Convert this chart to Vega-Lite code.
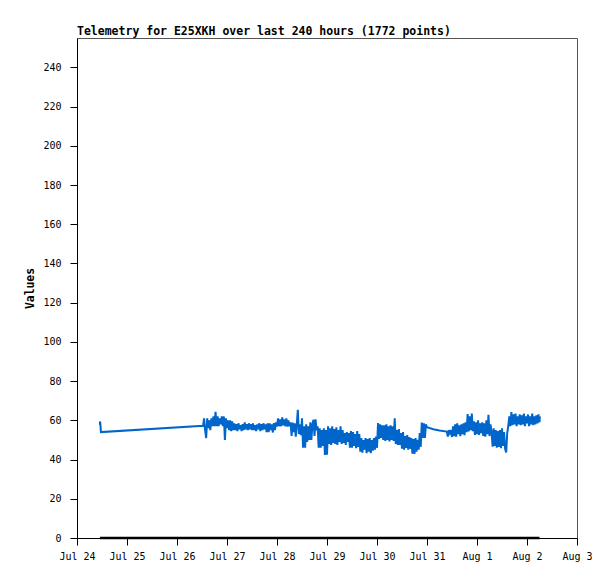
{
  "$schema": "https://vega.github.io/schema/vega-lite/v6.json",
  "width": 500,
  "height": 500,
  "autosize": {"type": "none"},
  "padding": {"left": 77, "top": 38, "right": 38, "bottom": 41},
  "background": "white",
  "title": {
    "text": "Telemetry for E25XKH over last 240 hours (1772 points)",
    "anchor": "start",
    "frame": "group",
    "font": "DejaVu Sans Mono",
    "fontSize": 11.5,
    "fontWeight": "bold",
    "color": "black",
    "baseline": "alphabetic",
    "offset": 4,
    "dy": 12
  },
  "datasets": {
    "zero": [
      {"t": "2024-07-24T11:00", "v": 0},
      {"t": "2024-08-02T06:00", "v": 0}
    ],
    "tele": [
      {"t": "2024-07-24T11:00", "v": 59.5},
      {"t": "2024-07-24T11:05", "v": 57.5},
      {"t": "2024-07-24T11:10", "v": 59},
      {"t": "2024-07-24T11:30", "v": 54},
      {"t": "2024-07-26T12:30", "v": 57.2},
      {"t": "2024-07-26T13:00", "v": 61},
      {"t": "2024-07-26T13:30", "v": 55},
      {"t": "2024-07-26T14:00", "v": 51},
      {"t": "2024-07-26T14:30", "v": 61},
      {"t": "2024-07-26T15:00", "v": 56},
      {"t": "2024-07-26T15:30", "v": 60},
      {"t": "2024-07-26T16:00", "v": 55},
      {"t": "2024-07-26T16:30", "v": 61},
      {"t": "2024-07-26T17:00", "v": 57},
      {"t": "2024-07-26T17:30", "v": 62},
      {"t": "2024-07-26T18:00", "v": 57},
      {"t": "2024-07-26T18:30", "v": 64.3},
      {"t": "2024-07-26T19:00", "v": 57},
      {"t": "2024-07-26T19:30", "v": 62},
      {"t": "2024-07-26T20:00", "v": 57},
      {"t": "2024-07-26T20:30", "v": 61},
      {"t": "2024-07-26T21:00", "v": 58},
      {"t": "2024-07-26T21:30", "v": 62},
      {"t": "2024-07-26T22:00", "v": 57},
      {"t": "2024-07-26T22:30", "v": 62},
      {"t": "2024-07-26T23:00", "v": 50},
      {"t": "2024-07-26T23:30", "v": 61},
      {"t": "2024-07-27T00:00", "v": 56},
      {"t": "2024-07-27T00:30", "v": 60},
      {"t": "2024-07-27T01:00", "v": 55},
      {"t": "2024-07-27T01:30", "v": 60},
      {"t": "2024-07-27T02:00", "v": 54.5},
      {"t": "2024-07-27T02:30", "v": 59.5},
      {"t": "2024-07-27T03:00", "v": 55},
      {"t": "2024-07-27T03:30", "v": 58.5},
      {"t": "2024-07-27T04:00", "v": 55},
      {"t": "2024-07-27T04:30", "v": 58},
      {"t": "2024-07-27T05:00", "v": 54.5},
      {"t": "2024-07-27T05:30", "v": 58.5},
      {"t": "2024-07-27T06:00", "v": 55.5},
      {"t": "2024-07-27T06:30", "v": 57.5},
      {"t": "2024-07-27T07:00", "v": 54.5},
      {"t": "2024-07-27T07:30", "v": 58},
      {"t": "2024-07-27T08:00", "v": 55},
      {"t": "2024-07-27T08:30", "v": 59},
      {"t": "2024-07-27T09:00", "v": 55.5},
      {"t": "2024-07-27T09:30", "v": 58},
      {"t": "2024-07-27T10:00", "v": 55},
      {"t": "2024-07-27T10:30", "v": 58.5},
      {"t": "2024-07-27T11:00", "v": 55.5},
      {"t": "2024-07-27T11:30", "v": 58},
      {"t": "2024-07-27T12:00", "v": 55},
      {"t": "2024-07-27T12:30", "v": 58.5},
      {"t": "2024-07-27T13:00", "v": 55},
      {"t": "2024-07-27T13:30", "v": 57.5},
      {"t": "2024-07-27T14:00", "v": 54.5},
      {"t": "2024-07-27T14:30", "v": 58},
      {"t": "2024-07-27T15:00", "v": 55.5},
      {"t": "2024-07-27T15:30", "v": 58.5},
      {"t": "2024-07-27T16:00", "v": 54.5},
      {"t": "2024-07-27T16:30", "v": 58},
      {"t": "2024-07-27T17:00", "v": 55},
      {"t": "2024-07-27T17:30", "v": 58.5},
      {"t": "2024-07-27T18:00", "v": 55.5},
      {"t": "2024-07-27T18:30", "v": 58},
      {"t": "2024-07-27T19:00", "v": 54},
      {"t": "2024-07-27T19:30", "v": 58.5},
      {"t": "2024-07-27T20:00", "v": 54},
      {"t": "2024-07-27T20:30", "v": 58.5},
      {"t": "2024-07-27T21:00", "v": 55},
      {"t": "2024-07-27T21:30", "v": 58},
      {"t": "2024-07-27T22:00", "v": 53.8},
      {"t": "2024-07-27T22:30", "v": 58.6},
      {"t": "2024-07-27T23:00", "v": 55},
      {"t": "2024-07-27T23:30", "v": 59},
      {"t": "2024-07-28T00:00", "v": 56.8},
      {"t": "2024-07-28T00:30", "v": 61},
      {"t": "2024-07-28T01:00", "v": 57},
      {"t": "2024-07-28T01:30", "v": 60.5},
      {"t": "2024-07-28T02:00", "v": 57},
      {"t": "2024-07-28T02:30", "v": 61.5},
      {"t": "2024-07-28T03:00", "v": 57.5},
      {"t": "2024-07-28T03:30", "v": 60.5},
      {"t": "2024-07-28T04:00", "v": 57},
      {"t": "2024-07-28T04:30", "v": 61},
      {"t": "2024-07-28T05:00", "v": 56.8},
      {"t": "2024-07-28T05:30", "v": 60},
      {"t": "2024-07-28T06:00", "v": 57},
      {"t": "2024-07-28T06:30", "v": 59},
      {"t": "2024-07-28T07:00", "v": 52},
      {"t": "2024-07-28T07:30", "v": 58.9},
      {"t": "2024-07-28T08:00", "v": 54},
      {"t": "2024-07-28T08:30", "v": 58.5},
      {"t": "2024-07-28T09:00", "v": 51.7},
      {"t": "2024-07-28T09:30", "v": 58},
      {"t": "2024-07-28T10:00", "v": 65.4},
      {"t": "2024-07-28T10:30", "v": 53},
      {"t": "2024-07-28T11:00", "v": 58},
      {"t": "2024-07-28T11:30", "v": 52.5},
      {"t": "2024-07-28T12:00", "v": 61},
      {"t": "2024-07-28T12:30", "v": 46},
      {"t": "2024-07-28T13:00", "v": 57},
      {"t": "2024-07-28T13:30", "v": 46},
      {"t": "2024-07-28T14:00", "v": 58},
      {"t": "2024-07-28T14:30", "v": 49},
      {"t": "2024-07-28T15:00", "v": 57},
      {"t": "2024-07-28T15:30", "v": 50},
      {"t": "2024-07-28T16:00", "v": 59},
      {"t": "2024-07-28T16:30", "v": 50},
      {"t": "2024-07-28T17:00", "v": 58},
      {"t": "2024-07-28T17:30", "v": 60.3},
      {"t": "2024-07-28T18:00", "v": 52},
      {"t": "2024-07-28T18:30", "v": 60.5},
      {"t": "2024-07-28T19:00", "v": 55},
      {"t": "2024-07-28T19:30", "v": 57},
      {"t": "2024-07-28T20:00", "v": 46},
      {"t": "2024-07-28T20:30", "v": 56},
      {"t": "2024-07-28T21:00", "v": 46},
      {"t": "2024-07-28T21:30", "v": 55},
      {"t": "2024-07-28T22:00", "v": 47},
      {"t": "2024-07-28T22:30", "v": 56},
      {"t": "2024-07-28T23:00", "v": 42.4},
      {"t": "2024-07-28T23:30", "v": 55},
      {"t": "2024-07-29T00:00", "v": 42.5},
      {"t": "2024-07-29T00:30", "v": 57},
      {"t": "2024-07-29T01:00", "v": 48},
      {"t": "2024-07-29T01:30", "v": 56},
      {"t": "2024-07-29T02:00", "v": 47.5},
      {"t": "2024-07-29T02:30", "v": 57},
      {"t": "2024-07-29T03:00", "v": 48.5},
      {"t": "2024-07-29T03:30", "v": 55.5},
      {"t": "2024-07-29T04:00", "v": 48},
      {"t": "2024-07-29T04:30", "v": 56.5},
      {"t": "2024-07-29T05:00", "v": 47.5},
      {"t": "2024-07-29T05:30", "v": 55},
      {"t": "2024-07-29T06:00", "v": 49},
      {"t": "2024-07-29T06:30", "v": 57},
      {"t": "2024-07-29T07:00", "v": 48},
      {"t": "2024-07-29T07:30", "v": 55},
      {"t": "2024-07-29T08:00", "v": 48.5},
      {"t": "2024-07-29T08:30", "v": 53.5},
      {"t": "2024-07-29T09:00", "v": 47.5},
      {"t": "2024-07-29T09:30", "v": 54},
      {"t": "2024-07-29T10:00", "v": 49},
      {"t": "2024-07-29T10:30", "v": 53.5},
      {"t": "2024-07-29T11:00", "v": 46},
      {"t": "2024-07-29T11:30", "v": 54.5},
      {"t": "2024-07-29T12:00", "v": 46},
      {"t": "2024-07-29T12:30", "v": 54},
      {"t": "2024-07-29T13:00", "v": 47},
      {"t": "2024-07-29T13:30", "v": 53},
      {"t": "2024-07-29T14:00", "v": 45.8},
      {"t": "2024-07-29T14:30", "v": 54.5},
      {"t": "2024-07-29T15:00", "v": 46.5},
      {"t": "2024-07-29T15:30", "v": 53},
      {"t": "2024-07-29T16:00", "v": 44},
      {"t": "2024-07-29T16:30", "v": 51},
      {"t": "2024-07-29T17:00", "v": 43.5},
      {"t": "2024-07-29T17:30", "v": 50},
      {"t": "2024-07-29T18:00", "v": 45},
      {"t": "2024-07-29T18:30", "v": 51},
      {"t": "2024-07-29T19:00", "v": 43.2},
      {"t": "2024-07-29T19:30", "v": 50.5},
      {"t": "2024-07-29T20:00", "v": 44},
      {"t": "2024-07-29T20:30", "v": 51},
      {"t": "2024-07-29T21:00", "v": 43.2},
      {"t": "2024-07-29T21:30", "v": 50},
      {"t": "2024-07-29T22:00", "v": 44.5},
      {"t": "2024-07-29T22:30", "v": 51},
      {"t": "2024-07-29T23:00", "v": 45},
      {"t": "2024-07-29T23:30", "v": 51.7},
      {"t": "2024-07-30T00:00", "v": 46},
      {"t": "2024-07-30T00:30", "v": 58.6},
      {"t": "2024-07-30T01:00", "v": 50.5},
      {"t": "2024-07-30T01:30", "v": 58},
      {"t": "2024-07-30T02:00", "v": 51},
      {"t": "2024-07-30T02:30", "v": 57.5},
      {"t": "2024-07-30T03:00", "v": 50},
      {"t": "2024-07-30T03:30", "v": 57.5},
      {"t": "2024-07-30T04:00", "v": 49.5},
      {"t": "2024-07-30T04:30", "v": 58},
      {"t": "2024-07-30T05:00", "v": 50},
      {"t": "2024-07-30T05:30", "v": 57},
      {"t": "2024-07-30T06:00", "v": 49.2},
      {"t": "2024-07-30T06:30", "v": 57.5},
      {"t": "2024-07-30T07:00", "v": 50},
      {"t": "2024-07-30T07:30", "v": 57},
      {"t": "2024-07-30T08:00", "v": 49.5},
      {"t": "2024-07-30T08:30", "v": 61.1},
      {"t": "2024-07-30T09:00", "v": 48},
      {"t": "2024-07-30T09:30", "v": 55},
      {"t": "2024-07-30T10:00", "v": 47.5},
      {"t": "2024-07-30T10:30", "v": 55.5},
      {"t": "2024-07-30T11:00", "v": 47.5},
      {"t": "2024-07-30T11:30", "v": 53.5},
      {"t": "2024-07-30T12:00", "v": 45.5},
      {"t": "2024-07-30T12:30", "v": 54},
      {"t": "2024-07-30T13:00", "v": 45},
      {"t": "2024-07-30T13:30", "v": 52},
      {"t": "2024-07-30T14:00", "v": 46},
      {"t": "2024-07-30T14:30", "v": 52.5},
      {"t": "2024-07-30T15:00", "v": 45},
      {"t": "2024-07-30T15:30", "v": 51.5},
      {"t": "2024-07-30T16:00", "v": 45.5},
      {"t": "2024-07-30T16:30", "v": 51},
      {"t": "2024-07-30T17:00", "v": 43},
      {"t": "2024-07-30T17:30", "v": 50.5},
      {"t": "2024-07-30T18:00", "v": 42.9},
      {"t": "2024-07-30T18:30", "v": 51},
      {"t": "2024-07-30T19:00", "v": 44},
      {"t": "2024-07-30T19:30", "v": 50},
      {"t": "2024-07-30T20:00", "v": 45},
      {"t": "2024-07-30T20:30", "v": 53.5},
      {"t": "2024-07-30T21:00", "v": 46.5},
      {"t": "2024-07-30T21:30", "v": 58.9},
      {"t": "2024-07-30T22:00", "v": 51},
      {"t": "2024-07-30T22:30", "v": 58.5},
      {"t": "2024-07-30T23:00", "v": 51},
      {"t": "2024-07-30T23:30", "v": 58},
      {"t": "2024-07-31T00:00", "v": 56.5},
      {"t": "2024-07-31T03:00", "v": 55.5},
      {"t": "2024-07-31T06:00", "v": 54.8},
      {"t": "2024-07-31T09:30", "v": 54.3},
      {"t": "2024-07-31T10:00", "v": 51.7},
      {"t": "2024-07-31T10:30", "v": 55},
      {"t": "2024-07-31T11:00", "v": 53.5},
      {"t": "2024-07-31T11:30", "v": 55},
      {"t": "2024-07-31T12:00", "v": 51.5},
      {"t": "2024-07-31T12:30", "v": 57},
      {"t": "2024-07-31T13:00", "v": 52},
      {"t": "2024-07-31T13:30", "v": 58},
      {"t": "2024-07-31T14:00", "v": 51.7},
      {"t": "2024-07-31T14:30", "v": 58.5},
      {"t": "2024-07-31T15:00", "v": 53},
      {"t": "2024-07-31T15:30", "v": 57.5},
      {"t": "2024-07-31T16:00", "v": 52},
      {"t": "2024-07-31T16:30", "v": 58},
      {"t": "2024-07-31T17:00", "v": 53},
      {"t": "2024-07-31T17:30", "v": 58.5},
      {"t": "2024-07-31T18:00", "v": 52.5},
      {"t": "2024-07-31T18:30", "v": 59},
      {"t": "2024-07-31T19:00", "v": 54},
      {"t": "2024-07-31T19:30", "v": 63.2},
      {"t": "2024-07-31T20:00", "v": 54.3},
      {"t": "2024-07-31T20:30", "v": 62},
      {"t": "2024-07-31T21:00", "v": 55},
      {"t": "2024-07-31T21:30", "v": 63.5},
      {"t": "2024-07-31T22:00", "v": 54.5},
      {"t": "2024-07-31T22:30", "v": 59.5},
      {"t": "2024-07-31T23:00", "v": 52.6},
      {"t": "2024-07-31T23:30", "v": 59},
      {"t": "2024-08-01T00:00", "v": 53},
      {"t": "2024-08-01T00:30", "v": 60},
      {"t": "2024-08-01T01:00", "v": 52.6},
      {"t": "2024-08-01T01:30", "v": 58.5},
      {"t": "2024-08-01T02:00", "v": 53.5},
      {"t": "2024-08-01T02:30", "v": 59},
      {"t": "2024-08-01T03:00", "v": 52},
      {"t": "2024-08-01T03:30", "v": 58.5},
      {"t": "2024-08-01T04:00", "v": 51.7},
      {"t": "2024-08-01T04:30", "v": 60},
      {"t": "2024-08-01T05:00", "v": 53},
      {"t": "2024-08-01T05:30", "v": 62.8},
      {"t": "2024-08-01T06:00", "v": 52},
      {"t": "2024-08-01T06:30", "v": 58},
      {"t": "2024-08-01T07:00", "v": 54},
      {"t": "2024-08-01T07:30", "v": 46.6},
      {"t": "2024-08-01T08:00", "v": 56},
      {"t": "2024-08-01T08:30", "v": 47},
      {"t": "2024-08-01T09:00", "v": 55},
      {"t": "2024-08-01T09:30", "v": 46},
      {"t": "2024-08-01T10:00", "v": 54.5},
      {"t": "2024-08-01T10:30", "v": 46.5},
      {"t": "2024-08-01T11:00", "v": 55},
      {"t": "2024-08-01T11:30", "v": 45.8},
      {"t": "2024-08-01T12:00", "v": 56},
      {"t": "2024-08-01T12:30", "v": 47},
      {"t": "2024-08-01T13:00", "v": 54},
      {"t": "2024-08-01T13:30", "v": 45.5},
      {"t": "2024-08-01T14:00", "v": 43.6},
      {"t": "2024-08-01T14:30", "v": 53.5},
      {"t": "2024-08-01T15:00", "v": 57},
      {"t": "2024-08-01T15:30", "v": 62},
      {"t": "2024-08-01T16:00", "v": 57},
      {"t": "2024-08-01T16:30", "v": 64.2},
      {"t": "2024-08-01T17:00", "v": 57.5},
      {"t": "2024-08-01T17:30", "v": 63},
      {"t": "2024-08-01T18:00", "v": 58},
      {"t": "2024-08-01T18:30", "v": 63.5},
      {"t": "2024-08-01T19:00", "v": 57},
      {"t": "2024-08-01T19:30", "v": 62},
      {"t": "2024-08-01T20:00", "v": 58},
      {"t": "2024-08-01T20:30", "v": 63},
      {"t": "2024-08-01T21:00", "v": 57.5},
      {"t": "2024-08-01T21:30", "v": 62.5},
      {"t": "2024-08-01T22:00", "v": 58},
      {"t": "2024-08-01T22:30", "v": 63.5},
      {"t": "2024-08-01T23:00", "v": 57},
      {"t": "2024-08-01T23:30", "v": 62},
      {"t": "2024-08-02T00:00", "v": 58.5},
      {"t": "2024-08-02T00:30", "v": 63},
      {"t": "2024-08-02T01:00", "v": 57},
      {"t": "2024-08-02T01:30", "v": 62},
      {"t": "2024-08-02T02:00", "v": 58},
      {"t": "2024-08-02T02:30", "v": 63.5},
      {"t": "2024-08-02T03:00", "v": 57.5},
      {"t": "2024-08-02T03:30", "v": 62},
      {"t": "2024-08-02T04:00", "v": 58},
      {"t": "2024-08-02T04:30", "v": 62.5},
      {"t": "2024-08-02T05:00", "v": 58.5},
      {"t": "2024-08-02T05:30", "v": 63},
      {"t": "2024-08-02T06:00", "v": 59},
      {"t": "2024-08-02T06:10", "v": 62}
    ]
  },
  "encoding": {
    "x": {
      "field": "t",
      "type": "temporal",
      "title": null,
      "scale": {"domain": ["2024-07-24T00:00", "2024-08-03T00:00"], "nice": false},
      "axis": {
        "format": "%b %-d",
        "tickCount": {"interval": "day", "step": 1},
        "labelFlush": false,
        "labelOverlap": false,
        "labelPadding": 6
      }
    },
    "y": {
      "field": "v",
      "type": "quantitative",
      "title": "Values",
      "scale": {"domain": [0, 255], "nice": false},
      "axis": {
        "values": [0, 20, 40, 60, 80, 100, 120, 140, 160, 180, 200, 220, 240],
        "labelFlush": false,
        "labelPadding": 9,
        "titlePadding": 7
      }
    }
  },
  "layer": [
    {
      "data": {"name": "tele"},
      "mark": {"type": "line", "color": "#0066CC", "strokeWidth": 2}
    },
    {
      "data": {"name": "zero"},
      "mark": {"type": "line", "color": "black", "strokeWidth": 2.5}
    }
  ],
  "config": {
    "view": {"stroke": "#555555", "strokeWidth": 1},
    "axis": {
      "grid": false,
      "domainColor": "black",
      "tickColor": "black",
      "tickSize": 7,
      "labelColor": "black",
      "labelFont": "DejaVu Sans Mono",
      "labelFontSize": 10,
      "titleFont": "DejaVu Sans Mono",
      "titleFontSize": 11.4,
      "titleFontWeight": "bold",
      "titleColor": "black"
    }
  }
}
